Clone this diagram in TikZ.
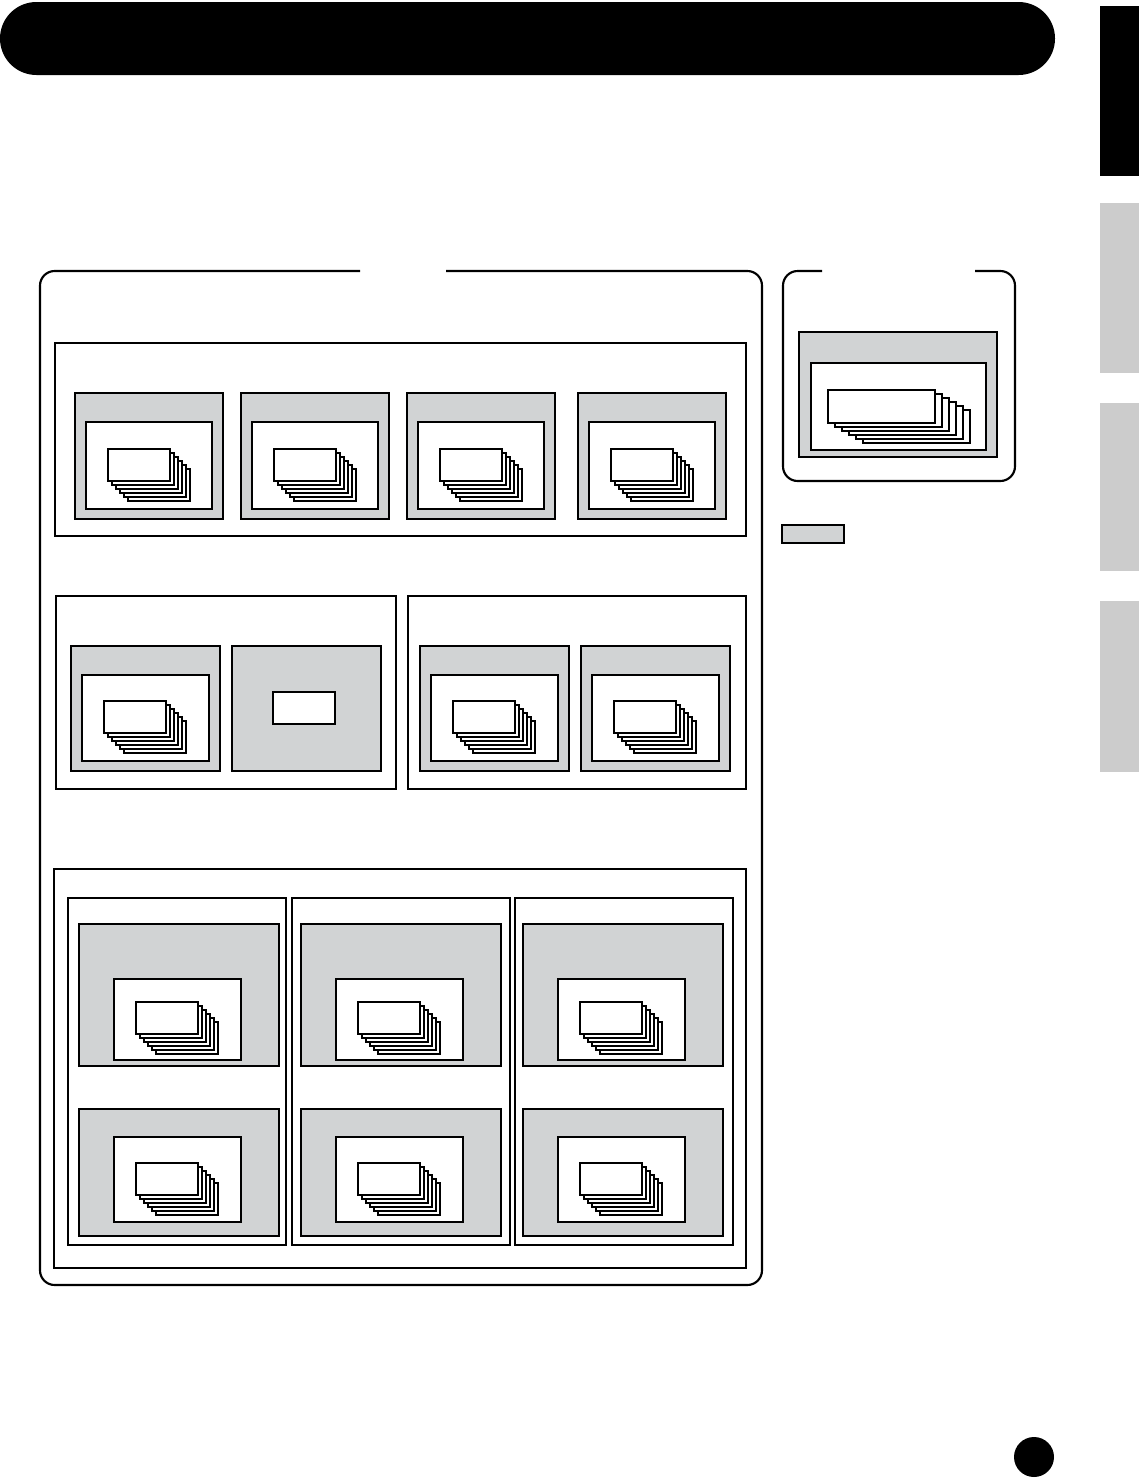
\documentclass[tikz,border=0pt]{standalone}
\definecolor{panelgray}{HTML}{D1D3D4}
\definecolor{tabgray}{HTML}{CCCCCC}
\tikzset{
  frame/.style={line width=1.6pt, rounded corners=11pt},
  boxframe/.style={line width=1.5pt},
  colframe/.style={line width=0.9pt},
  panel/.style={fill=panelgray, draw=black, line width=1.1pt},
  inner/.style={fill=white, draw=black, line width=1.1pt},
  card/.style={fill=white, draw=black, line width=0.8pt},
}
\newcommand{\cardstack}[6]{%
  \foreach \k in {5,4,3,2,1,0}{\draw[card] ({#1+\k*#5},{#2+\k*#6}) rectangle ++(#3,#4);}}
\begin{document}
\begin{tikzpicture}[x=0.75pt,y=-0.75pt]
\useasboundingbox (0,0) rectangle (1139,1478);
% header bar
\fill[rounded corners=27.3pt] (0,2) rectangle (1055,75);
% side tabs
\fill (1100,6) rectangle (1139,176);
\fill[tabgray] (1100,203) rectangle (1139,373);
\fill[tabgray] (1100,403) rectangle (1139,571);
\fill[tabgray] (1100,601) rectangle (1139,772);
% main frame with title gap
\draw[frame] (446,271) -- (762,271) -- (762,1285) -- (40,1285) -- (40,271) -- (360,271);
% right frame with title gap
\draw[frame] (975,271) -- (1015,271) -- (1015,481) -- (783,481) -- (783,271) -- (822,271);
\draw[panel] (799,332) rectangle (997,457);
\draw[inner] (811,363) rectangle (986,450);
\cardstack{828}{390}{107}{33}{7}{4}
% legend swatch
\draw[panel] (782,525) rectangle (844,543);
% top section
\draw[boxframe] (55,343) rectangle (746,536);
\foreach \gx in {75,241,407,578}{
  \draw[panel] (\gx,393) rectangle ({\gx+148},519);
  \draw[inner] ({\gx+11},422) rectangle ({\gx+137},509);
  \cardstack{\gx+33}{449}{62}{32}{4}{4}
}
% middle sections
\draw[boxframe] (56,596) rectangle (396,789);
\draw[boxframe] (408,596) rectangle (746,789);
\foreach \gx in {71,420,581}{
  \draw[panel] (\gx,646) rectangle ({\gx+149},771);
  \draw[inner] ({\gx+11},675) rectangle ({\gx+138},761);
  \cardstack{\gx+33}{701}{62}{32}{4}{4}
}
\draw[panel] (232,646) rectangle (381,771);
\draw[inner] (273,692) rectangle (335,724);
% bottom section
\draw[boxframe] (54,869) rectangle (746,1268);
\foreach \cx in {68,292,515}{
  \draw[colframe] (\cx,898) rectangle ({\cx+218},1245);
}
\foreach \gx in {79,301,523}{
  \draw[panel] (\gx,924) rectangle ({\gx+200},1066);
  \draw[inner] ({\gx+35},979) rectangle ({\gx+162},1060);
  \cardstack{\gx+57}{1002}{62}{32}{4}{4}
  \draw[panel] (\gx,1109) rectangle ({\gx+200},1236);
  \draw[inner] ({\gx+35},1137) rectangle ({\gx+162},1222);
  \cardstack{\gx+57}{1163}{62}{32}{4}{4}
}
% page number dot
\fill (1034,1457) circle (15pt);
\end{tikzpicture}
\end{document}
